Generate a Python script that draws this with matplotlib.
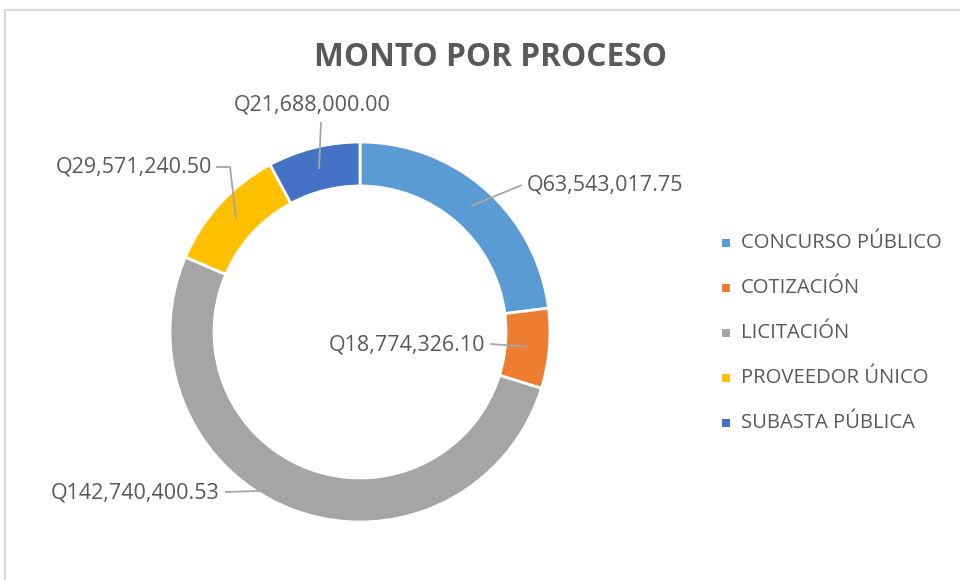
import matplotlib
matplotlib.use("Agg")
import matplotlib.pyplot as plt
from matplotlib.patches import Rectangle
import numpy as np

categories = ["CONCURSO PÚBLICO", "COTIZACIÓN", "LICITACIÓN", "PROVEEDOR ÚNICO", "SUBASTA PÚBLICA"]
values = [63543017.75, 18774326.10, 142740400.53, 29571240.50, 21688000.00]
labels = ["Q63,543,017.75", "Q18,774,326.10", "Q142,740,400.53", "Q29,571,240.50", "Q21,688,000.00"]
colors = ["#5B9BD5", "#ED7D31", "#A5A5A5", "#FFC000", "#4472C4"]

W, H = 960, 580
fig = plt.figure(figsize=(W / 100, H / 100), dpi=100)
ax = fig.add_axes([0, 0, 1, 1])

font = "Open Sans"
textc = "#595959"

# chart frame
fig.patches.append(Rectangle((5 / W, -0.1), 1.2, (H - 10) / H + 0.1, transform=fig.transFigure,
                             fill=False, edgecolor="#D9D9D9", linewidth=1.5))

cx, cy, R = 360, H - 332, 190
width = 44
wedges, _ = ax.pie(values, colors=colors, startangle=90, counterclock=False,
                   radius=R, center=(cx, cy), frame=True,
                   wedgeprops=dict(width=width, edgecolor="white", linewidth=2))
ax.set_xlim(0, W)
ax.set_ylim(0, H)
ax.set_aspect("equal")
ax.axis("off")

# label layout: text anchor (pixels, y down), alignment, elbow points
layout = [
    dict(txt=(527, 185), ha="left", path=[(522, 185)]),
    dict(txt=(485, 345), ha="right", path=[(490, 344)]),
    dict(txt=(220, 493), ha="right", path=[(225, 492)]),
    dict(txt=(212, 167), ha="right", path=[(216, 167), (230, 167)]),
    dict(txt=(312, 105), ha="center", path=[(321, 122)]),
]
for w, lab, lay in zip(wedges, labels, layout):
    ang = np.deg2rad((w.theta1 + w.theta2) / 2)
    rm = R - width / 2
    ax_, ay_ = cx + rm * np.cos(ang), cy + rm * np.sin(ang)
    pts = [(x, H - y) for x, y in lay["path"]] + [(ax_, ay_)]
    xs, ys = zip(*pts)
    ax.plot(xs, ys, color="#A6A6A6", linewidth=1.3, solid_capstyle="butt")
    tx, ty = lay["txt"]
    ax.text(tx, H - ty, lab, ha=lay["ha"], va="center", fontsize=15.5,
            color=textc, family=font)

ax.text(490, H - 58, "MONTO POR PROCESO", ha="center", va="center", fontsize=22.8,
        fontweight="bold", color=textc, family="Open Sans")

# legend
for i, (cat, col) in enumerate(zip(categories, colors)):
    y = 243 + 45 * i
    ax.add_patch(Rectangle((722, H - y - 4), 8, 8, facecolor=col, edgecolor="none"))
    ax.text(741, H - y, cat, ha="left", va="center", fontsize=14.6, color=textc, family=font)

fig.savefig("out.png", dpi=100)
